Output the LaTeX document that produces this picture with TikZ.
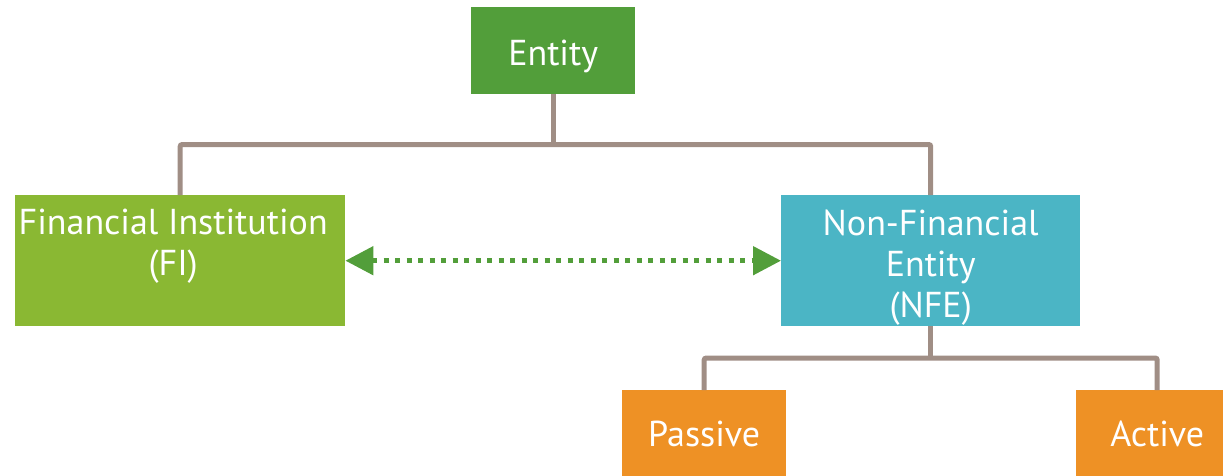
\documentclass[tikz,border=0pt]{standalone}
\usepackage{fontspec}
\setmainfont{PT Sans}
\usetikzlibrary{arrows.meta}
\definecolor{entgreen}{RGB}{82,158,58}
\definecolor{figreen}{RGB}{138,184,51}
\definecolor{nfeblue}{RGB}{75,181,197}
\definecolor{orangebox}{RGB}{238,145,37}
\definecolor{conncol}{RGB}{160,142,133}
\begin{document}
\begin{tikzpicture}[x=1pt,y=1pt,
  box/.style={inner sep=0pt, text=white, font=\fontsize{36}{41}\selectfont, anchor=north west},
  conn/.style={draw=conncol, line width=5pt, rounded corners=2pt},
  dotarrow/.style={draw=entgreen, line width=5pt, dash pattern=on 5pt off 6.5pt,
    {Triangle[length=28pt,width=28pt]}-{Triangle[length=28pt,width=28pt]}}]
\useasboundingbox (0,0) rectangle (1223,-475);
\clip (0,0) rectangle (1223,-475);
\node[box, fill=entgreen, minimum width=164pt, text height=58pt, text depth=29pt] (entity) at (471,-7) {Entity};
\node[box, fill=figreen, minimum width=330pt, text height=39pt, text depth=92pt] (fi) at (15,-195)
  {\begin{tabular}[t]{@{}c@{}}Financial Institution\\(FI)\end{tabular}\hspace*{14pt}};
\node[box, fill=nfeblue, minimum width=299pt, text height=40pt, text depth=91pt] (nfe) at (781,-195)
  {\begin{tabular}[t]{@{}c@{}}Non-Financial\\Entity\\(NFE)\end{tabular}};
\node[box, fill=orangebox, minimum width=164pt, text height=56pt, text depth=40pt] (passive) at (622,-390) {Passive};
\node[box, fill=orangebox, minimum width=162pt, text height=56pt, text depth=40pt] (active) at (1076,-390) {Active};
\coordinate (j1) at (entity.south |- 0,-144.5);
\coordinate (j2) at (nfe.south |- 0,-358);
\draw[conn] (fi.north) |- (j1) -| (nfe.north);
\draw[conn] (entity.south) -- (j1);
\draw[conn] (passive.north) |- (j2) -| (active.north);
\draw[conn] (nfe.south) -- (j2);
\draw[dotarrow] (fi.east) -- (nfe.west);
\end{tikzpicture}
\end{document}
